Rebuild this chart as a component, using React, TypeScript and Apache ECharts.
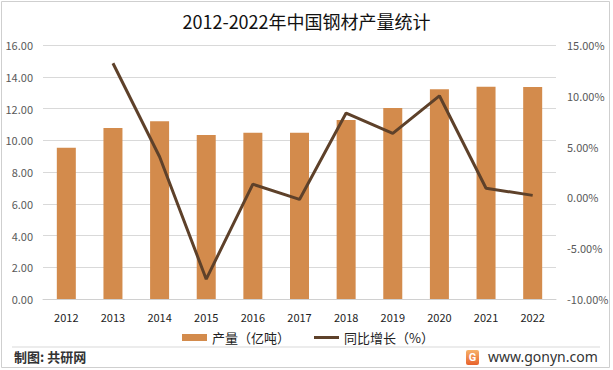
import React, { useEffect, useRef } from "react";
import * as echarts from "echarts";

const years = ["2012", "2013", "2014", "2015", "2016", "2017", "2018", "2019", "2020", "2021", "2022"];
const output = [9.53, 10.77, 11.2, 10.33, 10.47, 10.47, 11.28, 12.03, 13.22, 13.37, 13.35];
const growth = [null, 13.2, 4.0, -8.05, 1.3, -0.2, 8.3, 6.3, 10.0, 0.9, 0.2];
const leftTicks = { min: 0, max: 16, interval: 2 };
const rightTicks = { min: -10, max: 15, interval: 5 };
const title = "2012-2022年中国钢材产量统计";
const barName = "产量（亿吨）";
const lineName = "同比增长（%）";

export default function App() {
  const ref = useRef<HTMLDivElement>(null);
  useEffect(() => {
    const chart = echarts.init(ref.current!, null, { renderer: "svg" });
    const font = "'Noto Sans CJK SC', 'Noto Sans', sans-serif";
    chart.setOption({
      animation: false,
      backgroundColor: "#ffffff",
      textStyle: { fontFamily: font },
      title: {
        text: title,
        left: "center",
        top: 7,
        textStyle: { fontSize: 18, fontWeight: "normal", color: "#111", fontFamily: font },
      },
      grid: { left: 43, right: 57, top: 45, bottom: 71 },
      legend: {
        left: 177,
        top: 326,
        itemWidth: 25,
        itemHeight: 7,
        itemGap: 24,
        symbolKeepAspect: true,
        textStyle: { fontSize: 13, color: "#222", fontFamily: font },
        data: [
          { name: barName, icon: "rect" },
          { name: lineName, icon: "path://M0,0 L25,0 L25,3 L0,3 Z", itemStyle: { color: "#5E412A" } },
        ],
      },
      xAxis: {
        type: "category",
        data: years,
        axisLine: { lineStyle: { color: "#d0d0d0" } },
        axisTick: { show: false },
        axisLabel: { color: "#222", fontSize: 11, margin: 12 },
      },
      yAxis: [
        {
          type: "value",
          ...leftTicks,
          axisLine: { show: false },
          axisTick: { show: false },
          splitLine: { lineStyle: { color: "#d9d9d9" } },
          axisLabel: { color: "#595959", fontSize: 11, margin: 10, formatter: (v: number) => v.toFixed(2) },
        },
        {
          type: "value",
          ...rightTicks,
          axisLine: { show: false },
          axisTick: { show: false },
          splitLine: { show: false },
          axisLabel: { color: "#595959", fontSize: 11, margin: 11, formatter: (v: number) => v.toFixed(2) + "%" },
        },
      ],
      series: [
        {
          name: barName,
          type: "bar",
          data: output,
          barWidth: 19,
          itemStyle: { color: "#D38B4C" },
        },
        {
          name: lineName,
          type: "line",
          yAxisIndex: 1,
          data: growth,
          symbol: "none",
          lineStyle: { color: "#5E412A", width: 3 },
          itemStyle: { color: "#5E412A" },
        },
      ],
      graphic: [
        {
          type: "rect",
          shape: { x: 1.5, y: 1.5, width: 608, height: 366 },
          style: { fill: "none", stroke: "#cfcfcf", lineWidth: 1 },
          silent: true,
        },
        {
          type: "line",
          shape: { x1: 12, y1: 347, x2: 600, y2: 347 },
          style: { stroke: "#d9d9d9", lineWidth: 1 },
        },
        {
          type: "text",
          left: 14,
          top: 350,
          style: { text: "制图: 共研网", fontSize: 13, fontWeight: "bold", fill: "#333", fontFamily: font },
        },
        {
          type: "rect",
          shape: { x: 466, y: 350, width: 13, height: 15, r: 2 },
          style: {
            fill: new echarts.graphic.LinearGradient(0, 0, 0, 1, [
              { offset: 0, color: "#F7B26A" },
              { offset: 1, color: "#E8622C" },
            ]),
          },
        },
        {
          type: "text",
          x: 472.5,
          y: 357.5,
          style: { text: "G", fontSize: 11, fontWeight: "bold", fill: "#fff", align: "center", verticalAlign: "middle", fontFamily: "Roboto" },
        },
        {
          type: "text",
          left: 488,
          top: 349,
          style: { text: "www.gonyn.com", fontSize: 14, fill: "#333", fontFamily: "'Noto Sans', sans-serif" },
        },
      ],
    });
    return () => chart.dispose();
  }, []);
  return <div ref={ref} style={{ position: "absolute", left: 0, top: 0, width: 613, height: 370 }} />;
}
